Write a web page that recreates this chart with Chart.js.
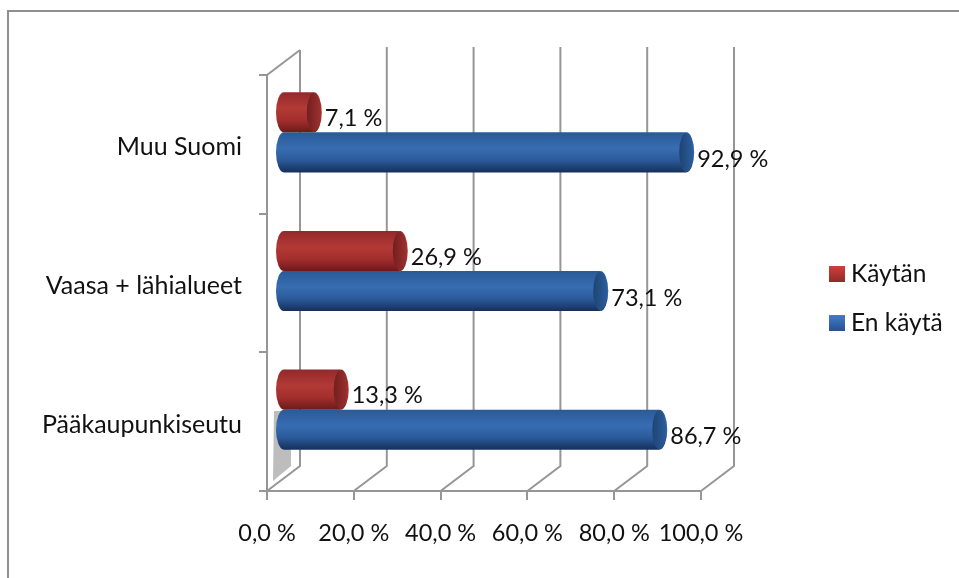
<!DOCTYPE html>
<html><head><meta charset="utf-8">
<style>html,body{margin:0;padding:0;background:#fff}#w{position:relative;width:959px;height:578px}</style>
<script src="https://cdn.jsdelivr.net/npm/chart.js@4"></script></head>
<body><div id="w"><canvas id="c" width="959" height="578"></canvas></div>
<script>
const categories = ['Muu Suomi', 'Vaasa + lähialueet', 'Pääkaupunkiseutu'];
const kaytan = [7.1, 26.9, 13.3];
const enKayta = [92.9, 73.1, 86.7];
const seriesNames = ['Käytän', 'En käytä'];
const xTicks = [0, 20, 40, 60, 80, 100];

const NUM_FONT = '23.5px Lato';
const LEG_FONT = '24.5px Lato';
const GRID = '#969696';
const DX = 33, DY = -25;           // depth of the 3D box
const MX = 16, MY = -12;           // bars sit in the middle of that depth
const BAR_H = 40;
const pal = [
  {stops:['#94292a','#b23a36','#a32e2c','#6a1b1b'], cap:['#6e1e1e','#a03230'], swatch:['#d0403c','#8f2a28']},
  {stops:['#2a5a97','#386db2','#2b5a99','#15305a'], cap:['#1d4272','#2c5f9e'], swatch:['#3f7ecb','#27518c']}
];
function fmt(v){ return v.toFixed(1).replace('.', ',') + ' %'; }
function stops(g,s){ g.addColorStop(0,s[0]); g.addColorStop(.4,s[1]); g.addColorStop(.7,s[2]); g.addColorStop(1,s[3]); return g; }
function grad(pi){
  return function(ctx){
    const ch = ctx.chart;
    if(!ch.chartArea || !ch.scales.y) return pal[pi].stops[1];
    const c = ch.scales.y.getPixelForValue(ctx.dataIndex);
    const t = pi===0 ? c-BAR_H : c;
    return stops(ch.ctx.createLinearGradient(0,t,0,t+BAR_H),pal[pi].stops);
  };
}
const box3d = {
  id:'box3d',
  beforeDraw(ch){
    const c = ch.ctx; c.save();
    c.strokeStyle = '#8f8f8f'; c.lineWidth = 2;
    c.beginPath(); c.moveTo(959,11); c.lineTo(8,11); c.lineTo(8,578); c.stroke();
    c.restore();
  },
  beforeDatasetsDraw(ch){
    const c = ch.ctx, x = ch.scales.x, a = ch.chartArea;
    c.save();
    c.fillStyle = '#bdbdbd';
    c.beginPath();
    c.moveTo(x.left+6,a.bottom-10); c.lineTo(x.left+24,a.bottom-25);
    c.lineTo(x.left+24,a.bottom-80); c.lineTo(x.left+7,a.bottom-80); c.closePath(); c.fill();
    c.strokeStyle = GRID; c.lineWidth = 2;
    xTicks.forEach(v=>{
      const p = x.getPixelForValue(v);
      c.beginPath(); c.moveTo(p,a.bottom); c.lineTo(p+DX,a.bottom+DY); c.lineTo(p+DX,a.top+DY-(v?3:0)); c.stroke();
    });
    c.beginPath(); c.moveTo(x.left,a.top); c.lineTo(x.left+DX,a.top+DY); c.stroke();
    c.restore();
    c.save(); c.translate(MX,MY);
  },
  afterDatasetsDraw(ch){
    const c = ch.ctx;
    ch.data.datasets.forEach((ds,di)=>{
      ch.getDatasetMeta(di).data.forEach((b)=>{
        const h = b.height/2, rx = 8, top = b.y-h;
        c.fillStyle = stops(c.createLinearGradient(0,top,0,top+b.height),pal[di].stops);
        c.beginPath(); c.ellipse(b.base,b.y,rx,h,0,Math.PI/2,Math.PI*1.5); c.fill();
        c.beginPath(); c.ellipse(b.x,b.y,rx,h,0,-Math.PI/2,Math.PI/2); c.fill();
        const cg = c.createLinearGradient(b.x-rx,0,b.x+rx,0);
        cg.addColorStop(0,pal[di].cap[0]); cg.addColorStop(1,pal[di].cap[1]);
        c.fillStyle = cg;
        c.beginPath(); c.ellipse(b.x,b.y,rx-1,h-.5,0,0,Math.PI*2); c.fill();
      });
    });
    c.restore();
    c.save();
    c.font = NUM_FONT; c.fillStyle = '#111'; c.textBaseline = 'middle'; c.textAlign = 'left';
    ch.data.datasets.forEach((ds,di)=>{
      ch.getDatasetMeta(di).data.forEach((b,i)=>{
        c.fillText(fmt(ds.data[i]), b.x+MX+11, b.y+MY+(di?7:6));
      });
    });
    c.font = LEG_FONT;
    ch.data.datasets.forEach((ds,di)=>{
      const y = 266+di*49, g = c.createLinearGradient(0,y,0,y+16);
      g.addColorStop(0,pal[di].swatch[0]); g.addColorStop(1,pal[di].swatch[1]);
      c.fillStyle = g; c.fillRect(829,y,16,16);
      c.fillStyle = '#111'; c.fillText(ds.label,851,y+8);
    });
    c.restore();
  }
};
new Chart(document.getElementById('c'),{
  type:'bar',
  plugins:[box3d],
  data:{labels:categories,datasets:[
    {label:seriesNames[0],data:kaytan,backgroundColor:grad(0),borderWidth:0},
    {label:seriesNames[1],data:enKayta,backgroundColor:grad(1),borderWidth:0}
  ]},
  options:{
    indexAxis:'y',responsive:false,animation:false,
    layout:{padding:{left:0,top:75,right:258,bottom:0}},
    categoryPercentage:80/138.5,barPercentage:1,
    plugins:{legend:{display:false},tooltip:{enabled:false},title:{display:false}},
    scales:{
      x:{min:0,max:100,
        afterFit(s){s.height=87;},
        afterBuildTicks(s){s.ticks=xTicks.map(v=>({value:v}));},
        grid:{drawOnChartArea:false,drawTicks:true,tickLength:9,color:GRID,lineWidth:2},
        border:{display:true,color:GRID,width:2},
        ticks:{maxRotation:0,autoSkip:false,padding:19,color:'#111',font:{family:'Lato',size:23.5},callback:v=>fmt(v)}
      },
      y:{
        afterFit(s){s.width=267;},
        grid:{offset:true,drawOnChartArea:false,drawTicks:true,tickLength:8,color:GRID,lineWidth:2},
        border:{display:true,color:GRID,width:2},
        ticks:{padding:17,labelOffset:3,color:'#111',font:{family:'Lato',size:25}}
      }
    }
  }
});
</script></body></html>
